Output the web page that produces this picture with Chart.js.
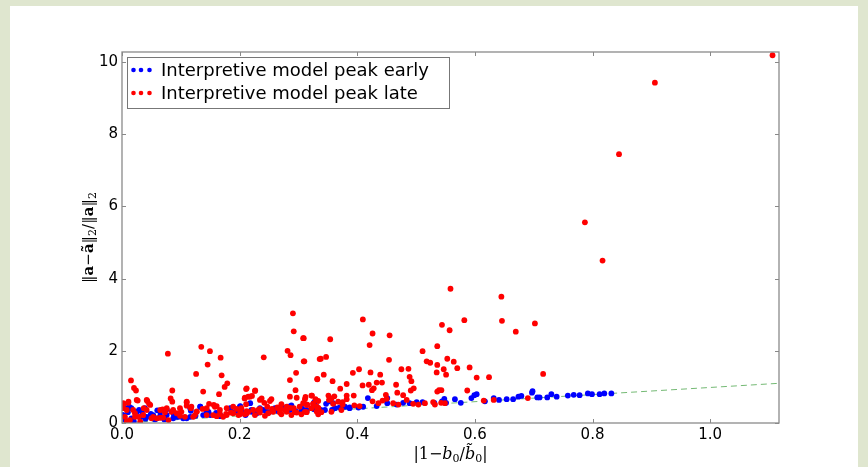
<!DOCTYPE html>
<html>
<head>
<meta charset="utf-8">
<script src="https://cdn.jsdelivr.net/npm/chart.js@4/dist/chart.umd.min.js"></script>
<style>
  body { margin: 0; background: #dfe6cf; width: 868px; height: 467px; overflow: hidden; }
  #panel { position: absolute; left: 10px; top: 6px; width: 848px; height: 461px; background: #fff; }
</style>
</head>
<body>
<div id="panel"><canvas id="myChart" width="848" height="461"></canvas></div>
<script>
// tick labels
const xTicks = [0.0, 0.2, 0.4, 0.6, 0.8, 1.0];
const yTicks = [0, 2, 4, 6, 8, 10];

// "Interpretive model peak early" (blue)
const earlyX = [0.016, 0.029, 0.034, 0.032, 0.002, 0.005, 0.049, 0.053, 0.056, 0.076, 0.088, 0.093, 0.104, 0.116, 0.117,
  0.133, 0.144, 0.150, 0.167, 0.184, 0.201, 0.203, 0.218, 0.220, 0.229, 0.240, 0.257, 0.274, 0.280, 0.288, 0.307, 0.326,
  0.331, 0.334, 0.010, 0.020, 0.040, 0.065, 0.072, 0.125, 0.160, 0.190, 0.210, 0.250, 0.265, 0.295, 0.012, 0.060,
  0.305, 0.314, 0.327, 0.338, 0.347, 0.353, 0.357, 0.370, 0.387, 0.402, 0.410, 0.418, 0.433, 0.451, 0.451, 0.467, 0.478,
  0.489, 0.501, 0.511, 0.531, 0.544, 0.548, 0.551, 0.566, 0.576, 0.594, 0.599, 0.603, 0.617, 0.632, 0.641, 0.654, 0.665,
  0.674, 0.679, 0.697, 0.698, 0.706, 0.710, 0.723, 0.730, 0.739, 0.758, 0.768, 0.778, 0.792, 0.799, 0.812, 0.820, 0.832,
  0.005, 0.001, 0.014, 0.016, 0.025, 0.031, 0.039, 0.042, 0.053, 0.059, 0.065, 0.076, 0.087, 0.096, 0.104, 0.110,
  0.116, 0.133, 0.138, 0.147, 0.167, 0.184, 0.195,
  0.2005, 0.203, 0.220, 0.2345, 0.246, 0.260, 0.2826, 0.2855, 0.305, 0.314, 0.328, 0.331, 0.345, 0.353, 0.359, 0.362,
  0.379, 0.387];
const earlyY = [0.41, 0.36, 0.31, 0.17, 0.22, 0.10, 0.25, 0.19, 0.10, 0.38, 0.24, 0.17, 0.13, 0.17, 0.34,
  0.45, 0.31, 0.22, 0.19, 0.40, 0.47, 0.36, 0.55, 0.31, 0.27, 0.36, 0.38, 0.43, 0.36, 0.49, 0.38, 0.56,
  0.41, 0.31, 0.30, 0.05, 0.12, 0.20, 0.10, 0.20, 0.28, 0.30, 0.22, 0.30, 0.33, 0.33, 0.45, 0.35,
  0.34, 0.36, 0.38, 0.36, 0.53, 0.60, 0.36, 0.43, 0.43, 0.43, 0.45, 0.69, 0.47, 0.69, 0.55, 0.51, 0.56,
  0.55, 0.58, 0.58, 0.56, 0.60, 0.67, 0.56, 0.66, 0.56, 0.69, 0.77, 0.80, 0.60, 0.69, 0.64, 0.66, 0.66,
  0.73, 0.75, 0.84, 0.88, 0.71, 0.71, 0.71, 0.80, 0.73, 0.76, 0.78, 0.77, 0.82, 0.80, 0.80, 0.82, 0.82,
  0.41, 0.22, 0.41, 0.13, 0.31, 0.15, 0.41, 0.17, 0.22, 0.13, 0.31, 0.22, 0.13, 0.17, 0.15, 0.13,
  0.41, 0.45, 0.22, 0.31, 0.22, 0.41, 0.31,
  0.45, 0.33, 0.36, 0.41, 0.31, 0.41, 0.45, 0.36, 0.41, 0.33, 0.59, 0.45, 0.36, 0.64, 0.55, 0.41,
  0.45, 0.41];

// "Interpretive model peak late" (red)
const lateX = [1.106, 0.906, 0.845, 0.787, 0.817, 0.716,
  0.5585, 0.645, 0.582, 0.646, 0.4095, 0.702, 0.6695, 0.557, 0.544, 0.309, 0.354, 0.426, 0.455, 0.421, 0.309, 0.338,
  0.347, 0.454, 0.511, 0.536, 0.518, 0.524, 0.553, 0.564, 0.536, 0.547, 0.570, 0.591, 0.551, 0.535, 0.475, 0.487,
  0.489, 0.492, 0.496, 0.491, 0.332, 0.343, 0.358, 0.371, 0.382, 0.3925, 0.403, 0.4225, 0.439, 0.442, 0.433, 0.409,
  0.4196, 0.425, 0.428, 0.466, 0.468, 0.478, 0.4486, 0.394, 0.382, 0.361, 0.351, 0.312, 0.323, 0.329, 0.539, 0.543,
  0.536, 0.587, 0.603, 0.624,
  0.2906, 0.292, 0.308, 0.2815, 0.2866, 0.310, 0.336, 0.296, 0.2855, 0.295, 0.332, 0.1348, 0.1495, 0.1677, 0.078,
  0.1456, 0.126, 0.1694, 0.138, 0.179, 0.1745, 0.165, 0.241, 0.211, 0.2265, 0.2146, 0.221, 0.2085, 0.2374, 0.254,
  0.242, 0.211, 0.0153, 0.0204, 0.0238, 0.0855, 0.0827, 0.0855, 0.0107, 0.0267, 0.043, 0.0034,
  0.002, 0.008, 0.019, 0.022, 0.037, 0.042, 0.046, 0.069, 0.073, 0.087, 0.0986, 0.110, 0.110, 0.117, 0.127, 0.137,
  0.148, 0.156, 0.161, 0.1665, 0.177, 0.185, 0.195, 0.202, 0.212, 0.223, 0.2345, 0.247, 0.255, 0.264, 0.270, 0.280,
  0.286, 0.292, 0.302, 0.314, 0.322, 0.325, 0.334,
  0.005, 0.0136, 0.028, 0.036, 0.053, 0.059, 0.0646, 0.079, 0.0986, 0.107, 0.124, 0.144, 0.161, 0.178, 0.189, 0.2005,
  0.212, 0.2345, 0.257, 0.2685, 0.280, 0.297, 0.314, 0.331,
  0.308, 0.315, 0.325, 0.331, 0.352, 0.359, 0.375, 0.375, 0.395, 0.404, 0.426, 0.436, 0.443, 0.450, 0.461, 0.470,
  0.484, 0.495, 0.504, 0.515, 0.529, 0.532, 0.5426, 0.549, 0.615, 0.632, 0.690,
  0.002, 0.011, 0.025, 0.042, 0.048, 0.065, 0.076, 0.084, 0.110, 0.118, 0.127, 0.144, 0.158, 0.1665, 0.178, 0.189,
  0.022, 0.036, 0.050, 0.070, 0.093, 0.101, 0.121, 0.155, 0.172, 0.008, 0.031,
  0.212, 0.226, 0.2175, 0.209, 0.2345, 0.2515, 0.271, 0.2855, 0.297, 0.311, 0.3336, 0.356, 0.3676, 0.382,
  0.203, 0.2146, 0.2316, 0.2486, 0.2656, 0.277, 0.294, 0.311, 0.322, 0.339, 0.356, 0.373,
  0.198, 0.209, 0.226, 0.243, 0.271, 0.288, 0.305, 0.3336];
const lateY = [10.19, 9.43, 7.45, 5.56, 4.50, 1.36,
  3.72, 3.50, 2.85, 2.83, 2.87, 2.76, 2.53, 2.57, 2.72, 2.35, 2.32, 2.48, 2.43, 2.16, 1.71, 1.78,
  1.83, 1.75, 1.99, 2.13, 1.71, 1.67, 1.78, 1.70, 1.61, 1.49, 1.52, 1.54, 1.34, 1.40, 1.49, 1.50,
  1.28, 1.16, 0.96, 0.90, 1.22, 1.34, 1.16, 0.95, 1.08, 1.39, 1.49, 1.40, 1.34, 1.12, 1.12, 1.04,
  1.06, 0.91, 0.96, 1.06, 0.84, 0.77, 0.78, 0.76, 0.76, 0.74, 0.76, 0.72, 0.76, 0.66, 0.91, 0.91,
  0.87, 0.90, 1.26, 1.27,
  3.04, 2.54, 2.35, 2.00, 1.88, 1.71, 1.77, 1.39, 1.19, 0.91, 1.21, 2.11, 1.99, 1.81, 1.92,
  1.62, 1.36, 1.32, 0.87, 1.10, 1.00, 0.80, 1.82, 0.94, 0.90, 0.73, 0.75, 0.68, 0.68, 0.66,
  0.56, 0.52, 1.18, 0.97, 0.90, 0.90, 0.68, 0.59, 0.56, 0.62, 0.61, 0.53,
  0.41, 0.36, 0.36, 0.27, 0.41, 0.36, 0.53, 0.38, 0.30, 0.36, 0.41, 0.57, 0.48, 0.41, 0.32, 0.39,
  0.53, 0.50, 0.47, 0.25, 0.25, 0.29, 0.39, 0.31, 0.33, 0.36, 0.39, 0.45, 0.39, 0.43, 0.39, 0.45,
  0.42, 0.41, 0.45, 0.50, 0.76, 0.53, 0.42,
  0.17, 0.08, 0.17, 0.22, 0.17, 0.13, 0.14, 0.08, 0.20, 0.17, 0.22, 0.22, 0.19, 0.22, 0.27, 0.24,
  0.27, 0.29, 0.31, 0.29, 0.31, 0.29, 0.30, 0.32,
  0.55, 0.51, 0.53, 0.45, 0.64, 0.53, 0.58, 0.51, 0.49, 0.47, 0.60, 0.55, 0.62, 0.67, 0.55, 0.51,
  0.64, 0.53, 0.51, 0.55, 0.58, 0.51, 0.56, 0.55, 0.62, 0.64, 0.69,
  0.55, 0.59, 0.64, 0.64, 0.50, 0.36, 0.41, 0.31, 0.59, 0.45, 0.31, 0.41, 0.45, 0.36, 0.41, 0.45,
  0.17, 0.22, 0.13, 0.15, 0.27, 0.31, 0.17, 0.22, 0.17, 0.04, 0.04,
  0.96, 0.89, 0.73, 0.70, 0.64, 0.61, 0.52, 0.73, 0.70, 0.66, 0.61, 0.68, 0.59, 0.66,
  0.41, 0.31, 0.36, 0.27, 0.41, 0.36, 0.30, 0.31, 0.41, 0.30, 0.31, 0.36,
  0.22, 0.24, 0.22, 0.20, 0.24, 0.22, 0.24, 0.24];

// dashed reference line
const fitX = [0.0, 1.117];
const fitY = [0.0, 1.10];

const toPoints = (xs, ys) => xs.map((x, i) => ({ x: x, y: ys[i] }));

/*
 * Draw a run of text pieces with different fonts, centred on (cx, cy)
 */
function drawRich(ctx, parts, cx, cy, angle) {
  ctx.save();
  ctx.translate(cx, cy);
  ctx.rotate(angle);
  ctx.textBaseline = "alphabetic";
  ctx.textAlign = "left";
  let total = 0;
  parts.forEach(p => { ctx.font = p.font; total += ctx.measureText(p.t).width; });
  let x = -total / 2;
  parts.forEach(p => {
    ctx.font = p.font;
    ctx.fillText(p.t, x, 5 + (p.dy || 0));
    x += ctx.measureText(p.t).width;
  });
  ctx.restore();
}

const framePlugin = {
  id: "frame",
  afterDatasetsDraw(chart) {
    const { ctx, chartArea: a, scales } = chart;
    ctx.save();
    // ticks pointing inward, on all four sides
    ctx.strokeStyle = "#888";
    ctx.lineWidth = 1;
    ctx.beginPath();
    xTicks.forEach(v => {
      const px = Math.round(scales.x.getPixelForValue(v)) + 0.5;
      ctx.moveTo(px, a.bottom); ctx.lineTo(px, a.bottom - 4);
      ctx.moveTo(px, a.top); ctx.lineTo(px, a.top + 4);
    });
    yTicks.forEach(v => {
      const py = Math.round(scales.y.getPixelForValue(v)) + 0.5;
      ctx.moveTo(a.left, py); ctx.lineTo(a.left + 4, py);
      ctx.moveTo(a.right, py); ctx.lineTo(a.right - 4, py);
    });
    ctx.stroke();
    ctx.strokeStyle = "#8a8a8a";
    ctx.lineWidth = 1.3;
    ctx.strokeRect(a.left, a.top, a.right - a.left, a.bottom - a.top);

    // legend box
    const lx = a.left + 5, ly = a.top + 5, lw = 322, lh = 51;
    ctx.fillStyle = "#fff";
    ctx.fillRect(lx, ly, lw, lh);
    ctx.strokeStyle = "#777";
    ctx.lineWidth = 1;
    ctx.strokeRect(lx + 0.5, ly + 0.5, lw, lh);
    const rows = [
      { label: chart.data.datasets[0].label, color: "#0000ff", y: ly + 13 },
      { label: chart.data.datasets[1].label, color: "#ff0000", y: ly + 36 }
    ];
    rows.forEach(r => {
      ctx.fillStyle = r.color;
      [6.5, 14, 22.5].forEach(dx => {
        ctx.beginPath();
        ctx.arc(lx + dx, r.y, 2.3, 0, Math.PI * 2);
        ctx.fill();
      });
      ctx.fillStyle = "#000";
      ctx.font = "18px 'DejaVu Sans'";
      ctx.textBaseline = "middle";
      ctx.fillText(r.label, lx + 34, r.y + 1);
    });
    ctx.restore();
  },
  afterDraw(chart) {
    const { ctx, chartArea: a } = chart;
    ctx.save();
    ctx.fillStyle = "#000";
    const reg = "15px 'DejaVu Serif'", bold = "bold 15px 'DejaVu Serif'", sub = "11px 'DejaVu Serif'";
    drawRich(ctx, [
      { t: "\u2016", font: reg }, { t: "a", font: bold }, { t: "\u2212", font: reg },
      { t: "a\u0303", font: bold }, { t: "\u2016", font: reg }, { t: "2", font: sub, dy: 3 },
      { t: "/\u2016", font: reg }, { t: "a", font: bold }, { t: "\u2016", font: reg }, { t: "2", font: sub, dy: 3 }
    ], 78, (a.top + a.bottom) / 2, -Math.PI / 2);
    const it = "italic 16px 'DejaVu Serif'", rg = "16px 'DejaVu Serif'", sb = "11px 'DejaVu Serif'";
    drawRich(ctx, [
      { t: "|1\u2212", font: rg }, { t: "b", font: it }, { t: "0", font: sb, dy: 3 },
      { t: "/", font: rg }, { t: "b\u0303", font: it }, { t: "0", font: sb, dy: 3 }, { t: "|", font: rg }
    ], (a.left + a.right) / 2, 448, 0);
    ctx.restore();
  }
};

const config = {
  type: "scatter",
  data: {
    datasets: [
      {
        label: "Interpretive model peak early",
        data: toPoints(earlyX, earlyY),
        backgroundColor: "#0000ff",
        borderWidth: 0,
        pointRadius: 2.9,
        order: 1
      },
      {
        label: "Interpretive model peak late",
        data: toPoints(lateX, lateY),
        backgroundColor: "#ff0000",
        borderWidth: 0,
        pointRadius: 2.9,
        order: 0
      },
      {
        type: "line",
        label: "fit",
        data: toPoints(fitX, fitY),
        borderColor: "rgba(0,128,0,0.55)",
        borderWidth: 1,
        borderDash: [6, 4],
        pointRadius: 0,
        order: 2
      }
    ]
  },
  options: {
    responsive: false,
    animation: false,
    layout: { padding: { top: 46, right: 79, left: 0, bottom: 0 } },
    scales: {
      x: {
        type: "linear",
        min: 0,
        max: 1.117,
        grid: { display: false, drawTicks: false },
        border: { display: false },
        afterBuildTicks: s => { s.ticks = xTicks.map(v => ({ value: v })); },
        afterFit: s => { s.height = 44; },
        ticks: {
          padding: 3,
          color: "#000",
          font: { family: "DejaVu Sans", size: 15 },
          callback: v => v.toFixed(1)
        }
      },
      y: {
        type: "linear",
        min: 0,
        max: 10.28,
        grid: { display: false, drawTicks: false },
        border: { display: false },
        afterBuildTicks: s => { s.ticks = yTicks.map(v => ({ value: v })); },
        afterFit: s => { s.width = 112; },
        ticks: {
          padding: 4,
          color: "#000",
          font: { family: "DejaVu Sans", size: 15 },
          callback: v => String(v)
        }
      }
    },
    plugins: {
      legend: { display: false },
      tooltip: { enabled: false }
    }
  },
  plugins: [framePlugin]
};

new Chart(document.getElementById("myChart"), config);
</script>
</body>
</html>
